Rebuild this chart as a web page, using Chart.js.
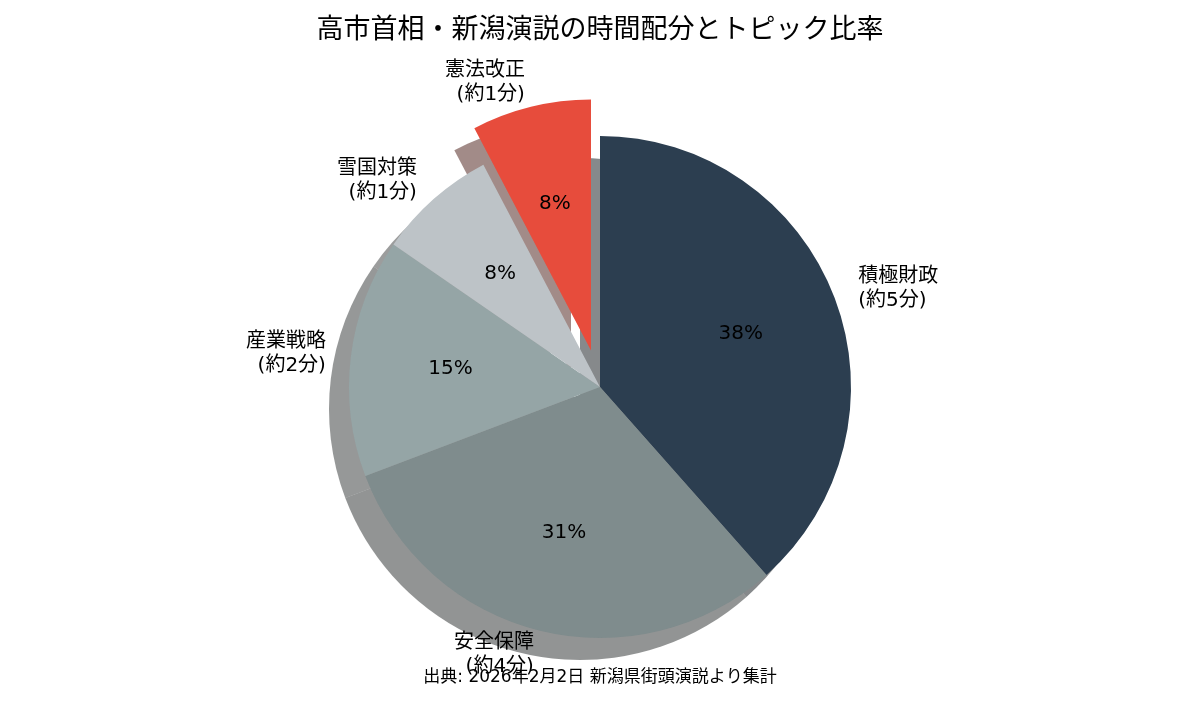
<!DOCTYPE html>
<html>
<head>
<meta charset="utf-8">
<title>高市首相・新潟演説の時間配分とトピック比率</title>
<script src="https://cdn.jsdelivr.net/npm/chart.js@4.4.1/dist/chart.umd.min.js"></script>
<style>
  html, body { margin: 0; padding: 0; background: #fff; }
  #wrap { width: 1200px; height: 720px; }
</style>
</head>
<body>
<div id="wrap"><canvas id="speechChart"></canvas></div>
<script>
// Données
const topics = ['積極財政', '安全保障', '産業戦略', '雪国対策', '憲法改正'];
const minutes = [5, 4, 2, 1, 1];
const minuteLabels = ['約5分', '約4分', '約2分', '約1分', '約1分'];
const colors = ['#2c3e50', '#7f8c8d', '#95a5a6', '#bdc3c7', '#e74c3c'];
const explode = [0, 0, 0, 0, 0.15];

const FONT = '"DejaVu Sans", "Noto Sans CJK JP", sans-serif';
const total = minutes.reduce((a, b) => a + b, 0);
const percents = minutes.map(v => Math.round(v / total * 100) + '%');

// decalage d'une part (explode) le long de son angle median
function shift(arc, i) {
    const mid = (arc.startAngle + arc.endAngle) / 2;
    const d = (explode[i] || 0) * arc.outerRadius;
    return {dx: Math.cos(mid) * d, dy: Math.sin(mid) * d, mid};
}

function shadowColor(hex) {
    const n = parseInt(hex.slice(1), 16);
    const r = (n >> 16) & 255, g = (n >> 8) & 255, b = n & 255;
    return `rgba(${Math.round(r * .3)},${Math.round(g * .3)},${Math.round(b * .3)},0.5)`;
}

const piePlugin = {
    id: 'piePlugin',
    beforeDatasetsDraw(chart) {
        const ctx = chart.ctx;
        const arcs = chart.getDatasetMeta(0).data;
        // ombres
        arcs.forEach((arc, i) => {
            const {dx, dy} = shift(arc, i);
            const x = arc.x + dx - 20, y = arc.y + dy + 22;
            ctx.save();
            ctx.fillStyle = shadowColor(colors[i]);
            ctx.beginPath();
            ctx.moveTo(x, y);
            ctx.arc(x, y, arc.outerRadius, arc.startAngle, arc.endAngle);
            ctx.closePath();
            ctx.fill();
            ctx.restore();
        });
        // part detachee
        arcs.forEach((arc, i) => {
            if (!explode[i] || arc._exploded) return;
            const base = arc.draw;
            arc.draw = function (c, area) {
                const {dx, dy} = shift(this, i);
                c.save();
                c.translate(dx, dy);
                base.call(this, c, area);
                c.restore();
            };
            arc._exploded = true;
        });
    },
    afterDatasetsDraw(chart) {
        const ctx = chart.ctx;
        const arcs = chart.getDatasetMeta(0).data;
        ctx.save();
        ctx.fillStyle = '#000';
        ctx.textBaseline = 'middle';
        arcs.forEach((arc, i) => {
            const {dx, dy, mid} = shift(arc, i);
            const r = arc.outerRadius;
            const cx = arc.x + dx, cy = arc.y + dy;
            // pourcentages
            ctx.font = '20px ' + FONT;
            ctx.textAlign = 'center';
            ctx.fillText(percents[i], cx + Math.cos(mid) * r * 0.6, cy + Math.sin(mid) * r * 0.6);
            // etiquettes
            const lx = cx + Math.cos(mid) * r * 1.1;
            const ly = cy + Math.sin(mid) * r * 1.1;
            ctx.textAlign = Math.cos(mid) > 0 ? 'left' : 'right';
            ctx.fillText(topics[i], lx, ly - 12);
            ctx.fillText('(' + minuteLabels[i] + ')', lx, ly + 12);
        });
        ctx.restore();
    }
};

new Chart(document.getElementById('speechChart'), {
    type: 'pie',
    data: {
        labels: topics,
        datasets: [{
            data: minutes,
            backgroundColor: colors,
            borderWidth: 0,
            hoverOffset: 0,
            clip: false
        }]
    },
    options: {
        responsive: true,
        maintainAspectRatio: false,
        animation: false,
        events: [],
        radius: 251,
        layout: {padding: 0},
        plugins: {
            legend: {display: false},
            tooltip: {enabled: false},
            title: {
                display: true,
                text: '高市首相・新潟演説の時間配分とトピック比率',
                color: '#000',
                font: {family: FONT, size: 27, weight: 'normal'},
                padding: {top: 15, bottom: 59}
            },
            subtitle: {
                display: true,
                position: 'bottom',
                text: '出典: 2026年2月2日 新潟県街頭演説より集計',
                color: '#000',
                font: {family: FONT, size: 17, weight: 'normal'},
                padding: {top: 0, bottom: 32}
            }
        }
    },
    plugins: [piePlugin]
});
</script>
</body>
</html>
